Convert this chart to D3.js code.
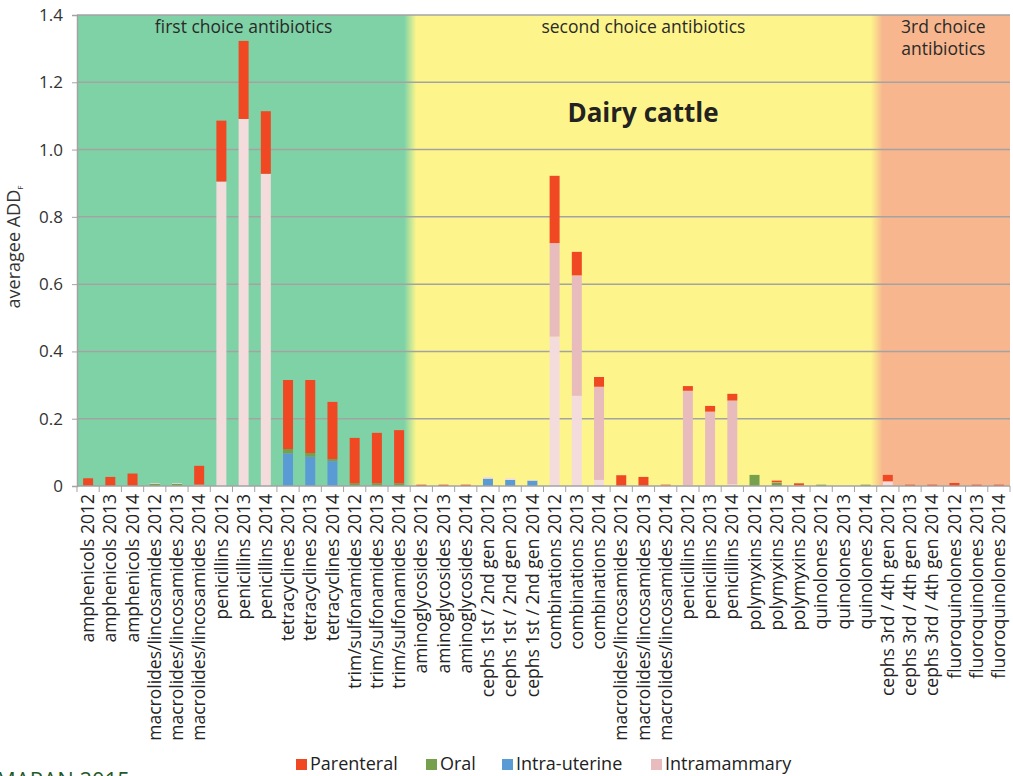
<!DOCTYPE html>
<html><head><meta charset="utf-8">
<script src="https://cdn.jsdelivr.net/npm/d3@7"></script>
<style>body{margin:0;background:#fff;}svg{display:block;font-family:"Open Sans",sans-serif;}</style>
</head><body><svg id="c" width="1013" height="776"></svg>
<script>
const categories = [
 "amphenicols 2012","amphenicols 2013","amphenicols 2014",
 "macrolides/lincosamides 2012","macrolides/lincosamides 2013","macrolides/lincosamides 2014",
 "penicillins 2012","penicillins 2013","penicillins 2014",
 "tetracyclines 2012","tetracyclines 2013","tetracyclines 2014",
 "trim/sulfonamides 2012","trim/sulfonamides 2013","trim/sulfonamides 2014",
 "aminoglycosides 2012","aminoglycosides 2013","aminoglycosides 2014",
 "cephs 1st / 2nd gen 2012","cephs 1st / 2nd gen 2013","cephs 1st / 2nd gen 2014",
 "combinations 2012","combinations 2013","combinations 2014",
 "macrolides/lincosamides 2012","macrolides/lincosamides 2013","macrolides/lincosamides 2014",
 "penicillins 2012","penicillins 2013","penicillins 2014",
 "polymyxins 2012","polymyxins 2013","polymyxins 2014",
 "quinolones 2012","quinolones 2013","quinolones 2014",
 "cephs 3rd / 4th gen 2012","cephs 3rd / 4th gen 2013","cephs 3rd / 4th gen 2014",
 "fluoroquinolones 2012","fluoroquinolones 2013","fluoroquinolones 2014"
];
// stacked from bottom: intra-uterine, oral, intramammary (light), intramammary, parenteral
const intraUterine = [0,0,0, 0,0,0, 0,0,0, 0.097,0.087,0.074, 0,0,0,
  0,0,0, 0.022,0.018,0.016, 0,0,0, 0,0,0, 0,0,0, 0,0,0, 0,0,0, 0,0,0, 0,0,0];
const oral = [0,0,0, 0.006,0.006,0.001, 0,0,0, 0.013,0.011,0.006, 0.008,0.008,0.008,
  0,0,0, 0,0,0, 0,0,0, 0,0,0, 0,0,0, 0.033,0.010,0.002, 0.004,0,0.004, 0,0,0, 0,0,0];
const intramammaryLight = [0,0,0, 0.002,0.002,0.003, 0.905,1.091,0.928, 0,0,0, 0,0,0,
  0,0,0, 0.005,0.005,0.002, 0.444,0.268,0.018, 0,0,0, 0.002,0.003,0.005, 0,0,0, 0,0,0, 0.014,0,0, 0,0,0];
const intramammary = [0,0,0, 0,0,0, 0,0,0, 0,0,0, 0,0,0,
  0,0,0, 0,0,0, 0.278,0.358,0.277, 0,0,0.001, 0.281,0.218,0.249, 0,0.001,0, 0,0,0, 0,0,0, 0,0,0];
const parenteral = [0.023,0.027,0.037, 0,0,0.056, 0.181,0.232,0.186, 0.205,0.217,0.170, 0.135,0.150,0.158,
  0.004,0.004,0.004, 0,0,0, 0.200,0.070,0.029, 0.032,0.027,0.003, 0.014,0.017,0.020, 0,0.005,0.006, 0,0,0, 0.019,0.004,0.004, 0.009,0.004,0.004];
const yTicks = [0,0.2,0.4,0.6,0.8,1.0,1.2,1.4];
const yTickLabels = ["0","0.2","0.4","0.6","0.8","1.0","1.2","1.4"];
const groups = [
  {label:["first choice antibiotics"], from:0, to:15, color:"#7fd2a6"},
  {label:["second choice antibiotics"], from:15, to:36, color:"#fdf58b"},
  {label:["3rd choice","antibiotics"], from:36, to:42, color:"#f7b68e"}
];
const seriesKeys = ["Intra-uterine","Oral","IntramammaryLight","Intramammary","Parenteral"];
const seriesVals = [intraUterine, oral, intramammaryLight, intramammary, parenteral];
const seriesColors = ["#5b9bd5","#77a04c","#f3dcdb","#e8bcbc","#f04822"];
const legendItems = [["Parenteral","#f04822"],["Oral","#77a04c"],["Intra-uterine","#5b9bd5"],["Intramammary","#e8bcbc"]];

const svg = d3.select("#c");
const L = 77, R = 1010, T = 15, B = 486;
const idx = categories.map((c,i)=>i);
const x = d3.scaleBand().domain(idx).range([L,R]).paddingInner(0.55).paddingOuter(0.275);
const xb = d3.scaleLinear().domain([0,42]).range([L,R]);
const y = d3.scaleLinear().domain([0,1.4]).range([B,T]);

// background bands with soft edges
const defs = svg.append("defs");
const grad = defs.append("linearGradient").attr("id","bg").attr("x1",L).attr("x2",R).attr("y1",0).attr("y2",0).attr("gradientUnits","userSpaceOnUse");
const blur = 6;
groups.forEach((g,i)=>{
  const a = (xb(g.from)-L)/(R-L), b=(xb(g.to)-L)/(R-L), e = blur/(R-L);
  grad.append("stop").attr("offset", i===0?0:a+e).attr("stop-color",g.color);
  grad.append("stop").attr("offset", i===groups.length-1?1:b-e).attr("stop-color",g.color);
});
svg.append("rect").attr("x",L).attr("y",T).attr("width",R-L).attr("height",B-T).attr("fill","url(#bg)");

// gridlines
svg.append("g").selectAll("line").data(yTicks.filter(d=>d>0)).join("line")
  .attr("x1",L).attr("x2",R).attr("y1",d=>y(d)).attr("y2",d=>y(d))
  .attr("stroke","#a3a3a3").attr("stroke-width",1.5);

// stacked bars
const rows = idx.map(i=>{const o={i}; seriesKeys.forEach((k,j)=>o[k]=seriesVals[j][i]); return o;});
const stack = d3.stack().keys(seriesKeys)(rows);
svg.append("g").selectAll("g").data(stack).join("g").attr("fill",(d,j)=>seriesColors[j])
  .selectAll("rect").data(d=>d).join("rect")
  .attr("x",d=>x(d.data.i)).attr("width",x.bandwidth())
  .attr("y",d=>y(d[1])).attr("height",d=>Math.max(0,y(d[0])-y(d[1])));

// y axis
const yAxis = d3.axisLeft(y).tickValues(yTicks).tickFormat((d,i)=>yTickLabels[i]).tickSize(5).tickPadding(9);
const ga = svg.append("g").attr("transform",`translate(${L},0)`).call(yAxis);
ga.select(".domain").attr("stroke","#a3a3a3").attr("stroke-width",1.5);
ga.selectAll(".tick line").attr("stroke","#a3a3a3");
ga.selectAll(".tick text").attr("font-size",17).attr("fill","#333").attr("font-family","Open Sans");

// x axis
const xAxis = d3.axisBottom(x).tickFormat(i=>categories[i]).tickSize(0).tickPadding(8);
const gx = svg.append("g").attr("transform",`translate(0,${B})`).call(xAxis);
gx.select(".domain").remove();
gx.selectAll(".tick text").attr("font-size",17.5).attr("fill","#222").attr("font-family","Open Sans")
  .attr("text-anchor","end").attr("transform","rotate(-90)").attr("x",-8).attr("y",0).attr("dy","0.35em");
svg.append("line").attr("x1",L).attr("x2",R).attr("y1",B).attr("y2",B).attr("stroke","#a3a3a3").attr("stroke-width",1.5);
svg.append("g").selectAll("line").data(d3.range(43)).join("line")
  .attr("x1",d=>xb(d)).attr("x2",d=>xb(d)).attr("y1",B).attr("y2",B+6).attr("stroke","#a3a3a3");

// group titles
groups.forEach(g=>{
  const cx = (xb(g.from)+xb(g.to))/2;
  const t = svg.append("text").attr("x",cx).attr("y",33).attr("text-anchor","middle").attr("font-size",17.5).attr("fill","#2a2a2a");
  g.label.forEach((s,k)=>t.append("tspan").attr("x",cx).attr("dy",k?22:0).text(s));
});
svg.append("text").attr("x",643).attr("y",122).attr("text-anchor","middle").attr("font-size",26).attr("font-weight","bold").attr("fill","#222").text("Dairy cattle");

// y title
const yt = svg.append("text").attr("transform","translate(20,247) rotate(-90)").attr("text-anchor","middle").attr("font-size",18).attr("fill","#333");
yt.append("tspan").text("averagee ADD");
yt.append("tspan").attr("font-size",8).attr("dy",3).text("F");

// legend
const lx = [296,426,502,651];
legendItems.forEach((it,k)=>{
  svg.append("rect").attr("x",lx[k]).attr("y",759).attr("width",11).attr("height",11).attr("fill",it[1]);
  svg.append("text").attr("x",lx[k]+14).attr("y",770).attr("font-size",18).attr("fill","#222").text(it[0]);
});
svg.append("text").attr("x",-4).attr("y",788).attr("font-size",22).attr("fill","#1f5a2a").text("MARAN 2015");
</script></body></html>
